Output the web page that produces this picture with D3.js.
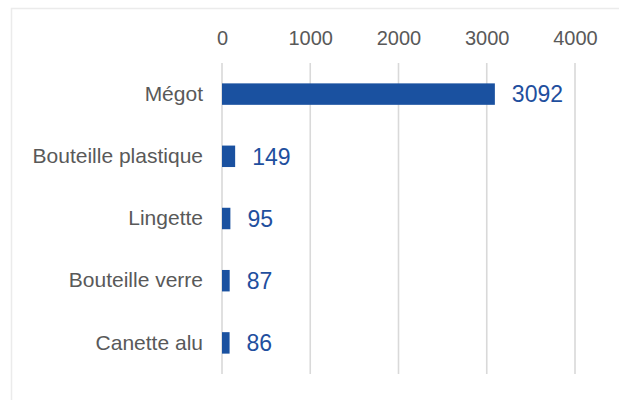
<!DOCTYPE html>
<html>
<head>
<meta charset="utf-8">
<script src="https://cdn.jsdelivr.net/npm/d3@7"></script>
<style>
  body { margin: 0; background: #fff; }
  svg text { font-family: "Liberation Sans", Arial, sans-serif; }
</style>
</head>
<body>
<div id="chart"></div>
<script>
"use strict";

var categories = ["Mégot", "Bouteille plastique", "Lingette", "Bouteille verre", "Canette alu"];
var values = [3092, 149, 95, 87, 86];
var tickValues = [0, 1000, 2000, 3000, 4000];

var width = 619;
var height = 400;
var margin = { top: 63, left: 222, right: 44, bottom: 26 };

var svg = d3.select("#chart").append("svg")
  .attr("width", width)
  .attr("height", height);

// chart area frame (goes past the right/bottom edges)
svg.append("rect")
  .attr("x", 11.5).attr("y", 8.5)
  .attr("width", width + 20).attr("height", height + 20)
  .attr("fill", "#fff")
  .attr("stroke", "#ebebeb")
  .attr("stroke-width", 1.5);

var x = d3.scaleLinear().domain([0, 4000]).range([margin.left, width - margin.right]);
var y = d3.scaleBand().domain(categories).range([margin.top, height - margin.bottom]).paddingInner(0.655).paddingOuter(0.3275);

// gridlines
svg.append("g").selectAll("line").data(tickValues).enter().append("line")
  .attr("x1", function (d) { return x(d); })
  .attr("x2", function (d) { return x(d); })
  .attr("y1", margin.top)
  .attr("y2", height - margin.bottom)
  .attr("stroke", "#d9d9d9")
  .attr("stroke-width", 1.6);

// top axis labels
var xAxis = d3.axisTop(x).tickValues(tickValues).tickFormat(d3.format("d")).tickSize(0).tickPadding(0);
var gx = svg.append("g").attr("transform", "translate(0,45)").call(xAxis);
gx.select(".domain").remove();
gx.selectAll("text")
  .attr("font-size", 20)
  .attr("fill", "#595959")
  .attr("dy", 0);

// category labels
var yAxis = d3.axisLeft(y).tickSize(0).tickPadding(19);
var gy = svg.append("g").attr("transform", "translate(" + margin.left + ",0)").call(yAxis);
gy.select(".domain").remove();
gy.selectAll("text")
  .attr("font-size", 21)
  .attr("fill", "#595959");

// bars
svg.append("g").selectAll("rect").data(values).enter().append("rect")
  .attr("x", x(0))
  .attr("y", function (d, i) { return y(categories[i]); })
  .attr("width", function (d) { return x(d) - x(0); })
  .attr("height", y.bandwidth())
  .attr("fill", "#1a51a0");

// value labels
svg.append("g").selectAll("text").data(values).enter().append("text")
  .attr("x", function (d) { return x(d) + 17; })
  .attr("y", function (d, i) { return y(categories[i]) + y.bandwidth() / 2; })
  .attr("dy", "0.36em")
  .attr("font-size", 23)
  .attr("fill", "#1f4f9e")
  .text(function (d) { return d; });
</script>
</body>
</html>
